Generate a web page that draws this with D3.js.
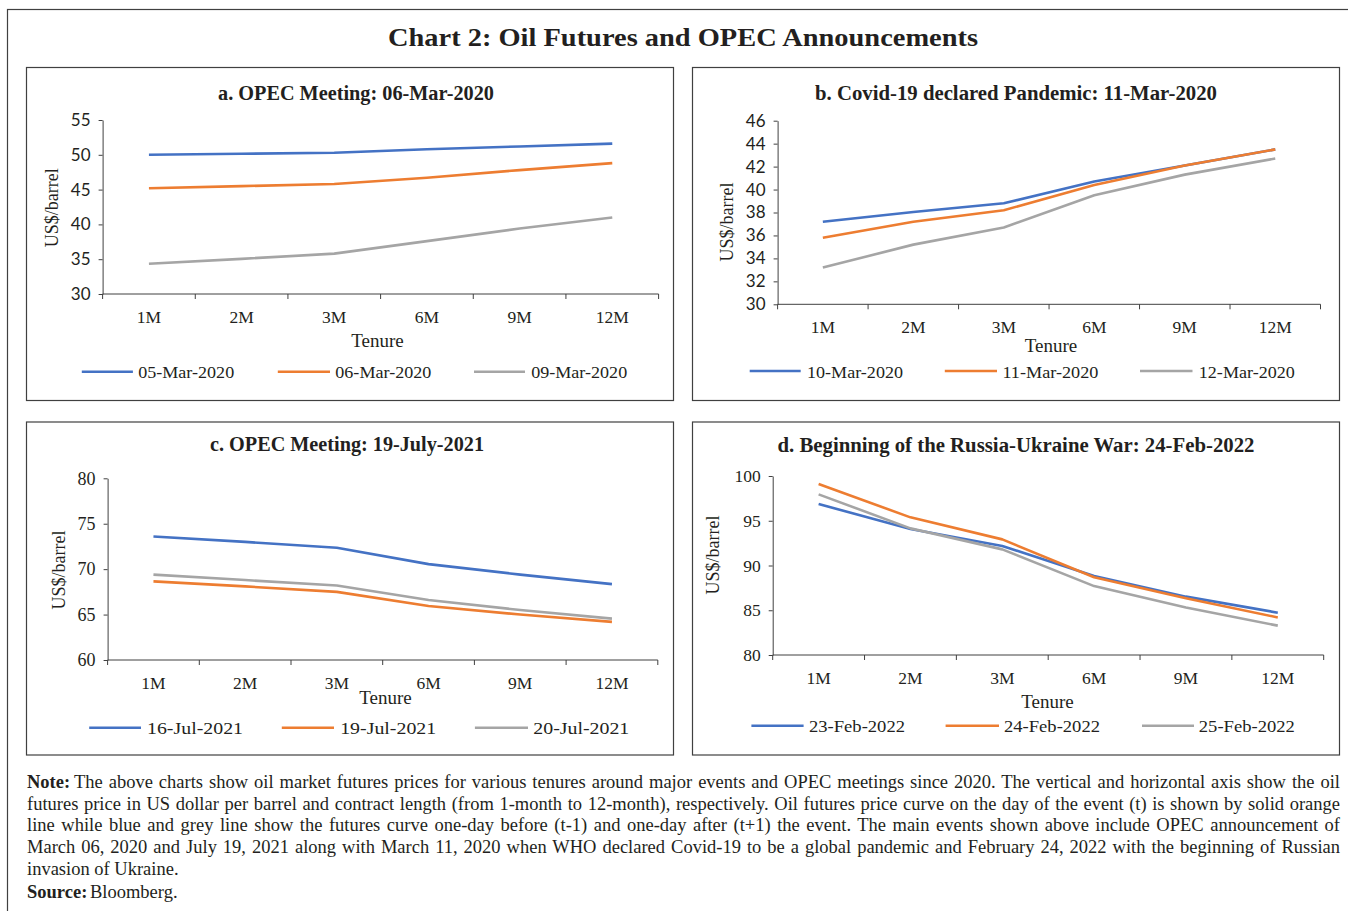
<!DOCTYPE html>
<html>
<head>
<meta charset="utf-8">
<script src="https://cdn.jsdelivr.net/npm/d3@7"></script>
<style>
  html, body { margin: 0; padding: 0; background: #fff; }
  svg { display: block; }
  text { fill: #231f20; }
</style>
</head>
<body>
<svg id="chart" width="1348" height="911"></svg>
<script>
// ---------------- DATA ----------------
const tenures = ["1M", "2M", "3M", "6M", "9M", "12M"];

// Panel a: OPEC Meeting 06-Mar-2020
const aSeriesNames = ["05-Mar-2020", "06-Mar-2020", "09-Mar-2020"];
const a_05Mar2020 = [50.0, 50.15, 50.3, 50.8, 51.2, 51.6];
const a_06Mar2020 = [45.2, 45.5, 45.8, 46.7, 47.8, 48.8];
const a_09Mar2020 = [34.35, 35.05, 35.8, 37.6, 39.4, 41.0];
const aTicks = [30, 35, 40, 45, 50, 55];

// Panel b: Covid-19 declared Pandemic 11-Mar-2020
const bSeriesNames = ["10-Mar-2020", "11-Mar-2020", "12-Mar-2020"];
const b_10Mar2020 = [37.2, 38.05, 38.8, 40.7, 42.1, 43.5];
const b_11Mar2020 = [35.8, 37.2, 38.2, 40.4, 42.1, 43.5];
const b_12Mar2020 = [33.2, 35.2, 36.7, 39.5, 41.3, 42.7];
const bTicks = [30, 32, 34, 36, 38, 40, 42, 44, 46];

// Panel c: OPEC Meeting 19-July-2021
const cSeriesNames = ["16-Jul-2021", "19-Jul-2021", "20-Jul-2021"];
const c_16Jul2021 = [73.6, 73.0, 72.35, 70.55, 69.4, 68.35];
const c_19Jul2021 = [68.65, 68.1, 67.5, 65.95, 65.0, 64.2];
const c_20Jul2021 = [69.4, 68.8, 68.2, 66.6, 65.5, 64.55];
const cTicks = [60, 65, 70, 75, 80];

// Panel d: Beginning of the Russia-Ukraine War 24-Feb-2022
const dSeriesNames = ["23-Feb-2022", "24-Feb-2022", "25-Feb-2022"];
const d_23Feb2022 = [96.87, 94.08, 92.18, 88.83, 86.52, 84.73];
const d_24Feb2022 = [99.1, 95.38, 92.92, 88.68, 86.33, 84.2];
const d_25Feb2022 = [97.95, 94.15, 91.8, 87.7, 85.3, 83.28];
const dTicks = [80, 85, 90, 95, 100];

const panelTitles = [
  "a. OPEC Meeting: 06-Mar-2020",
  "b. Covid-19 declared Pandemic: 11-Mar-2020",
  "c. OPEC Meeting: 19-July-2021",
  "d. Beginning of the Russia-Ukraine War: 24-Feb-2022"
];
const mainTitle = "Chart 2: Oil Futures and OPEC Announcements";
const xTitle = "Tenure";
const yTitle = "US$/barrel";

const noteLines = [
  "The above charts show oil market futures prices for various tenures around major events and OPEC meetings since 2020. The vertical and horizontal axis show the oil",
  "futures price in US dollar per barrel and contract length (from 1-month to 12-month), respectively. Oil futures price curve on the day of the event (t) is shown by solid orange",
  "line while blue and grey line show the futures curve one-day before (t-1) and one-day after (t+1) the event. The main events shown above include OPEC announcement of",
  "March 06, 2020 and July 19, 2021 along with March 11, 2020 when WHO declared Covid-19 to be a global pandemic and February 24, 2022 with the beginning of Russian",
  "invasion of Ukraine."
];
const sourceText = "Bloomberg.";

// ---------------- STYLE / LAYOUT ----------------
const colors = ["#4472C4", "#ED7D31", "#A5A5A5"];
const SERIF = "'Liberation Serif', 'Times New Roman', serif";
const SANS = "Lato, 'Open Sans', sans-serif";
const axisColor = "#404040";

const panels = [
  { names: aSeriesNames, series: [a_05Mar2020, a_06Mar2020, a_09Mar2020], ticks: aTicks,
    frame: [26, 67.5, 647, 333], x0: 102.6, x1: 658.6, yTop: 120, yBot: 294,
    title: { x: 356, y: 100, len: 276 }, xLabY: 323, tenure: { x: 377.5, y: 347 },
    ylab: { x: 51.6, y: 207.7 }, yFont: SANS, yFs: 17,
    legend: { y: 371.7, ty: 378, items: [[81.8, 132.9, 138.2], [277.8, 330, 335.3], [474, 525, 531.2]] } },
  { names: bSeriesNames, series: [b_10Mar2020, b_11Mar2020, b_12Mar2020], ticks: bTicks,
    frame: [692, 67.5, 647, 333], x0: 777.6, x1: 1320.5, yTop: 120.7, yBot: 304.3,
    title: { x: 1016, y: 100, len: 402 }, xLabY: 333, tenure: { x: 1051, y: 351.5 },
    ylab: { x: 727, y: 222 }, yFont: SANS, yFs: 17,
    legend: { y: 371, ty: 377.7, items: [[749.7, 800.7, 807], [944.8, 997, 1002.4], [1140, 1192.5, 1198.8]] } },
  { names: cSeriesNames, series: [c_16Jul2021, c_19Jul2021, c_20Jul2021], ticks: cTicks,
    frame: [26, 422, 647, 333], x0: 107.6, x1: 657.8, yTop: 478.3, yBot: 660,
    title: { x: 347, y: 451, len: 274 }, xLabY: 689, tenure: { x: 385.5, y: 704 },
    ylab: { x: 59, y: 570 }, yFont: SERIF, yFs: 18,
    legend: { y: 727.7, ty: 734, items: [[89.2, 141, 147], [281.8, 334, 340.2], [474.9, 528, 533.3]] } },
  { names: dSeriesNames, series: [d_23Feb2022, d_24Feb2022, d_25Feb2022], ticks: dTicks,
    frame: [692, 422, 647, 333], x0: 772.7, x1: 1323.7, yTop: 476, yBot: 655,
    title: { x: 1016, y: 452, len: 477 }, xLabY: 684, tenure: { x: 1047.5, y: 707.5 },
    ylab: { x: 713, y: 555 }, yFont: SERIF, yFs: 17.5,
    legend: { y: 725.7, ty: 732.3, items: [[751.4, 803.6, 809], [945.6, 999, 1004], [1142, 1194, 1198.8]] } }
];

const svg = d3.select("#chart");

// outer frame (left + top visible)
svg.append("rect").attr("x", 7.5).attr("y", 9.5).attr("width", 1400).attr("height", 1000)
  .attr("fill", "none").attr("stroke", axisColor).attr("stroke-width", 1.2);

// main title
svg.append("text").attr("x", 388).attr("y", 46)
  .attr("font-family", SERIF).attr("font-weight", "bold").attr("font-size", 26)
  .attr("textLength", 590).attr("lengthAdjust", "spacingAndGlyphs")
  .text(mainTitle);

panels.forEach((p, i) => {
  const g = svg.append("g");
  // frame
  g.append("rect").attr("x", p.frame[0] + 0.5).attr("y", p.frame[1]).attr("width", p.frame[2]).attr("height", p.frame[3])
    .attr("fill", "none").attr("stroke", axisColor).attr("stroke-width", 1.2);

  // title
  g.append("text").attr("x", p.title.x).attr("y", p.title.y).attr("text-anchor", "middle")
    .attr("font-family", SERIF).attr("font-weight", "bold").attr("font-size", 20)
    .attr("textLength", p.title.len).attr("lengthAdjust", "spacingAndGlyphs")
    .text(panelTitles[i]);

  const x = d3.scaleBand().domain(tenures).range([p.x0, p.x1]).paddingInner(0).paddingOuter(0);
  const y = d3.scaleLinear().domain([p.ticks[0], p.ticks[p.ticks.length - 1]]).range([p.yBot, p.yTop]);

  // y axis
  const ya = g.append("g").attr("transform", `translate(${p.x0},0)`)
    .call(d3.axisLeft(y).tickValues(p.ticks).tickSize(4).tickSizeOuter(0).tickPadding(8));
  ya.select(".domain").attr("stroke", axisColor);
  ya.selectAll(".tick line").attr("stroke", axisColor);
  ya.selectAll(".tick text").attr("font-family", p.yFont).attr("font-size", p.yFs).attr("fill", "#231f20");

  // x axis line
  g.append("line").attr("x1", p.x0).attr("x2", p.x1).attr("y1", p.yBot).attr("y2", p.yBot)
    .attr("stroke", axisColor).attr("stroke-width", 1);
  // boundary tick marks
  const bounds = tenures.map(t => x(t)).concat([x(tenures[tenures.length - 1]) + x.bandwidth()]);
  g.selectAll(".xtick").data(bounds).enter().append("line")
    .attr("x1", d => d).attr("x2", d => d).attr("y1", p.yBot).attr("y2", p.yBot + 5)
    .attr("stroke", axisColor);
  // category labels
  g.selectAll(".xlab").data(tenures).enter().append("text")
    .attr("x", d => x(d) + x.bandwidth() / 2).attr("y", p.xLabY).attr("text-anchor", "middle")
    .attr("font-family", SERIF).attr("font-size", 17.5).text(d => d);

  // axis titles
  g.append("text").attr("x", p.tenure.x).attr("y", p.tenure.y).attr("text-anchor", "middle")
    .attr("font-family", SERIF).attr("font-size", 19).text(xTitle);
  g.append("text").attr("transform", `translate(${p.ylab.x},${p.ylab.y}) rotate(-90)`)
    .attr("text-anchor", "middle").attr("dominant-baseline", "central")
    .attr("font-family", SERIF).attr("font-size", 18).text(yTitle);

  // lines
  const line = d3.line().x((d, j) => x(tenures[j]) + x.bandwidth() / 2).y(d => y(d));
  p.series.forEach((s, k) => {
    g.append("path").datum(s).attr("d", line).attr("fill", "none")
      .attr("stroke", colors[k]).attr("stroke-width", 2.6).attr("stroke-linejoin", "round");
  });

  // legend
  p.legend.items.forEach((it, k) => {
    g.append("line").attr("x1", it[0]).attr("x2", it[1]).attr("y1", p.legend.y).attr("y2", p.legend.y)
      .attr("stroke", colors[k]).attr("stroke-width", 2.6);
    g.append("text").attr("x", it[2]).attr("y", p.legend.ty)
      .attr("font-family", SERIF).attr("font-size", 17)
      .attr("textLength", 96).attr("lengthAdjust", "spacingAndGlyphs")
      .text(p.names[k]);
  });
});

// notes (justified with word-spacing)
const noteFs = 18.5;
const noteY0 = 788, noteDy = 21.7;
noteLines.forEach((ln, i) => {
  const yy = noteY0 + i * noteDy;
  if (i === 0) {
    svg.append("text").attr("x", 27).attr("y", yy).attr("font-family", SERIF).attr("font-weight", "bold")
      .attr("font-size", noteFs).text("Note:");
  }
  const xStart = i === 0 ? 74 : 27;
  const t = svg.append("text").attr("x", xStart).attr("y", yy).attr("font-family", SERIF).attr("font-size", noteFs).text(ln);
  if (i < 4) {
    const target = 1340 - xStart;
    let natural = t.node().getComputedTextLength();
    const spaces = (ln.match(/ /g) || []).length;
    if (natural > target) {
      t.attr("textLength", target).attr("lengthAdjust", "spacingAndGlyphs");
    } else {
      t.attr("word-spacing", ((target - natural) / spaces).toFixed(3));
    }
  }
});
const srcY = noteY0 + 5 * noteDy + 1;
svg.append("text").attr("x", 27).attr("y", srcY).attr("font-family", SERIF).attr("font-weight", "bold")
  .attr("font-size", noteFs).text("Source:");
svg.append("text").attr("x", 90).attr("y", srcY).attr("font-family", SERIF).attr("font-size", noteFs).text(sourceText);
</script>
</body>
</html>
